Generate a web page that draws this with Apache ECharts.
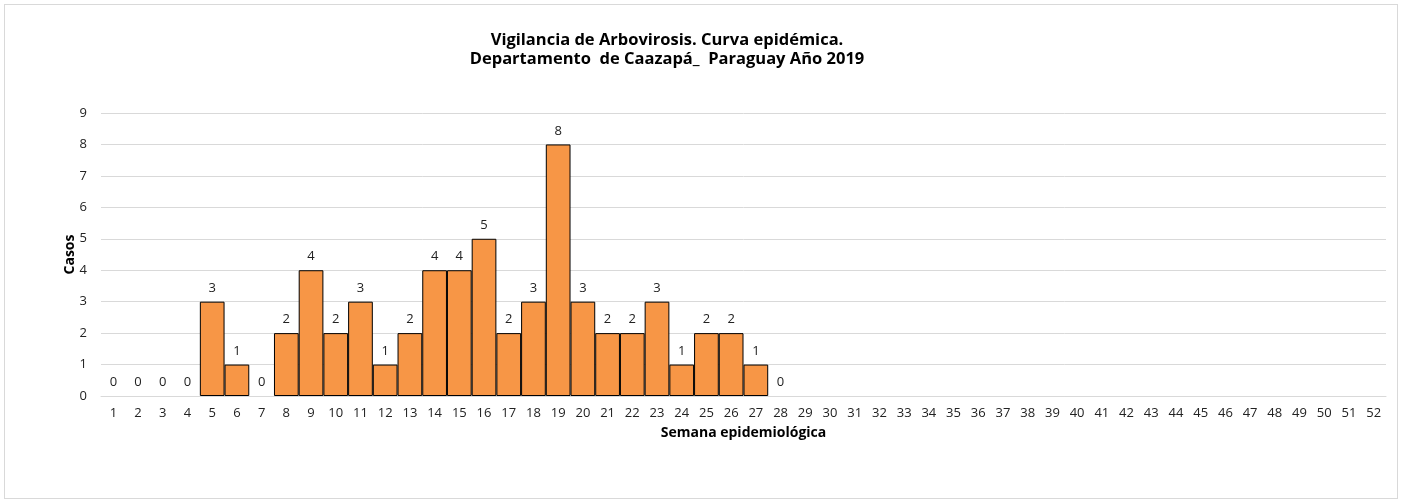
<!DOCTYPE html>
<html><head><meta charset="utf-8">
<script src="https://cdn.jsdelivr.net/npm/echarts@6/dist/echarts.min.js"></script>
<style>
html,body{margin:0;padding:0;background:#fff;}
#wrap{position:absolute;left:4px;top:4px;width:1392px;height:493px;border:1px solid #d9d9d9;}
#c{width:1392px;height:493px;}
</style></head><body>
<div id="wrap"><div id="c"></div></div>
<script>
const weeks = [];
for (let i = 1; i <= 52; i++) weeks.push(String(i));
const casos = [0,0,0,0,3,1,0,2,4,2,3,1,2,4,4,5,2,3,8,3,2,2,3,1,2,2,1,0,
  null,null,null,null,null,null,null,null,null,null,null,null,null,null,null,null,null,null,null,null,null,null,null,null];
const yTicks = [0,1,2,3,4,5,6,7,8,9];
const titleText = 'Vigilancia de Arbovirosis. Curva epidémica.\nDepartamento  de Caazapá_  Paraguay Año 2019';
const font = '"Open Sans", "Noto Sans", sans-serif';

const barData = casos.map(v => v === 0 ? {value: v, itemStyle: {borderWidth: 0}} : v);

const chart = echarts.init(document.getElementById('c'));
chart.setOption({
  animation: false,
  title: {
    text: titleText, left: 657, top: 21, textAlign: 'center',
    textStyle: {fontFamily: font, fontSize: 16.5, fontWeight: 'bold', color: '#000', lineHeight: 19}
  },
  grid: {left: 96, right: 11, top: 108, bottom: 102, containLabel: false},
  xAxis: {
    type: 'category', data: weeks,
    name: 'Semana epidemiológica', nameLocation: 'middle', nameGap: 30, nameMoveOverlap: false,
    nameTextStyle: {fontFamily: font, fontSize: 14, fontWeight: 'bold', color: '#000'},
    axisLine: {lineStyle: {color: '#d9d9d9'}},
    axisTick: {show: false},
    axisLabel: {fontFamily: font, fontSize: 13, color: '#222', interval: 0, margin: 11}
  },
  yAxis: {
    type: 'value', min: 0, max: yTicks[yTicks.length-1], interval: 1,
    name: 'Casos', nameLocation: 'middle', nameGap: 24, nameRotate: 90, nameMoveOverlap: false,
    nameTextStyle: {fontFamily: font, fontSize: 14, fontWeight: 'bold', color: '#000'},
    axisLine: {show: false}, axisTick: {show: false},
    axisLabel: {fontFamily: font, fontSize: 13, color: '#222', margin: 14},
    splitLine: {lineStyle: {color: '#d9d9d9'}}
  },
  series: [{
    type: 'bar', data: barData, barCategoryGap: '0%',
    itemStyle: {color: '#F79646', borderColor: '#000', borderWidth: 1},
    label: {show: true, position: 'top', distance: 7, fontFamily: font, fontSize: 13, color: '#222'}
  }]
});
</script>
</body></html>
